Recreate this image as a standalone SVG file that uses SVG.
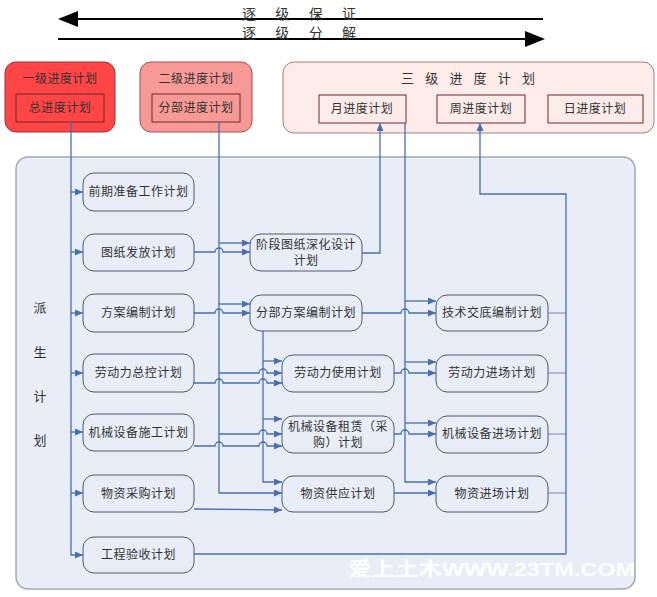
<svg xmlns="http://www.w3.org/2000/svg" width="657" height="597" viewBox="0 0 657 597">
<defs>
<marker id="ar" markerUnits="userSpaceOnUse" markerWidth="9" markerHeight="8" refX="8" refY="3.5" orient="auto">
<path d="M0,0 L8,3.5 L0,7 z" fill="#4a6fae"/>
</marker>
<style>
text{font-family:"Noto Sans CJK SC","Noto Sans",sans-serif;fill:#333;}
.t{font-size:12px;text-anchor:middle;letter-spacing:0.5px;}
.n{fill:#e8edf7;stroke:#4d5a72;stroke-width:1;}
.in{fill:none;stroke:#6a2a2a;stroke-width:1;}
.c{fill:none;stroke:#4a6fae;stroke-width:1.3;}
.ca{fill:none;stroke:#4a6fae;stroke-width:1.3;marker-end:url(#ar);}
.cr{fill:none;stroke:#7088b8;stroke-width:1;}
.big{stroke:#000;stroke-width:2;}
</style>
</defs>
<rect width="657" height="597" fill="#fff"/>

<g id="top-arrows">
<line class="big" x1="70" y1="19" x2="543" y2="19"/>
<path d="M58,19 L78,11 L78,27 z" fill="#000"/>
<line class="big" x1="58" y1="39" x2="530" y2="39"/>
<path d="M545,39 L525,31 L525,47 z" fill="#000"/>
<text x="242" y="19" font-size="14" textLength="114" lengthAdjust="spacing">逐 级 保 证</text>
<text x="242" y="38" font-size="14" textLength="114" lengthAdjust="spacing">逐 级 分 解</text>
</g>

<g id="level1">
<rect x="5" y="62" width="110" height="70" rx="11" fill="#ff4545" stroke="#a03030"/>
<text class="t" x="60" y="83">一级进度计划</text>
<rect class="in" x="16" y="94" width="88" height="28"/>
<text class="t" x="60" y="112">总进度计划</text>
</g>
<g id="level2">
<rect x="140" y="62" width="112" height="70" rx="11" fill="#f79a96" stroke="#a05050"/>
<text class="t" x="196" y="83">二级进度计划</text>
<rect class="in" x="152" y="94" width="88" height="28"/>
<text class="t" x="196" y="112">分部进度计划</text>
</g>
<g id="level3">
<rect x="283" y="62" width="371" height="71" rx="11" fill="#fdebe9" stroke="#a08080"/>
<text x="401" y="83" font-size="13" textLength="134" lengthAdjust="spacing">三 级 进 度 计 划</text>
</g>
<g id="month"><rect class="in" x="319" y="95" width="87" height="28" stroke="#7a4a4a"/><text class="t" x="362" y="113">月进度计划</text></g>
<g id="week"><rect class="in" x="437" y="95" width="88" height="28" stroke="#7a4a4a"/><text class="t" x="481" y="113">周进度计划</text></g>
<g id="day"><rect class="in" x="548" y="95" width="95" height="28" stroke="#7a4a4a"/><text class="t" x="595" y="113">日进度计划</text></g>

<g id="panel">
<rect x="16" y="157" width="619" height="432" rx="12" fill="#e8edf7" stroke="#a4a8b0" stroke-width="1.5"/>
<text x="40" y="312" font-size="13" text-anchor="middle">派</text>
<text x="40" y="357" font-size="13" text-anchor="middle">生</text>
<text x="40" y="401" font-size="13" text-anchor="middle">计</text>
<text x="40" y="445" font-size="13" text-anchor="middle">划</text>
</g>

<g id="connectors">
<path class="ca" d="M71,122 V555 H83"/>
<path class="ca" d="M71,192 H83"/>
<path class="ca" d="M71,252 H83"/>
<path class="ca" d="M71,313 H83"/>
<path class="ca" d="M71,373 H83"/>
<path class="ca" d="M71,432 H83"/>
<path class="ca" d="M71,493 H83"/>

<path class="ca" d="M219,122 V493 H282"/>
<path class="ca" d="M219,243 H250"/>
<path class="ca" d="M219,304 H250"/>
<path class="ca" d="M219,373 H259 A4,4 0 0 1 267,373 H282"/>
<path class="ca" d="M219,434 H259 A4,4 0 0 1 267,434 H282"/>

<path class="ca" d="M194,252 H215 A4,4 0 0 1 223,252 H250"/>
<path class="ca" d="M194,313 H215 A4,4 0 0 1 223,313 H250"/>
<path class="ca" d="M194,383 H215 A4,4 0 0 1 223,383 H259 A4,4 0 0 1 267,383 H282"/>
<path class="ca" d="M194,446 H215 A4,4 0 0 1 223,446 H259 A4,4 0 0 1 267,446 H282"/>
<path class="ca" d="M194,509 L282,510"/>

<path class="ca" d="M263,330 V482 H282"/>
<path class="ca" d="M263,361 H282"/>
<path class="ca" d="M263,419 H282"/>

<path class="ca" d="M362,253 H380 V123"/>

<path class="ca" d="M405,123 V482 H436"/>
<path class="ca" d="M405,301 H436"/>
<path class="ca" d="M405,362 H436"/>
<path class="ca" d="M405,423 H436"/>
<path class="ca" d="M362,313 H401 A4,4 0 0 1 409,313 H436"/>
<path class="ca" d="M394,373 H401 A4,4 0 0 1 409,373 H436"/>
<path class="ca" d="M394,434 H401 A4,4 0 0 1 409,434 H436"/>
<path class="ca" d="M394,493 H436"/>

<path class="cr" d="M548,313 H566"/>
<path class="cr" d="M548,373 H566"/>
<path class="cr" d="M548,434 H566"/>
<path class="cr" d="M548,493 H566"/>
<path class="c" d="M194,554 H566"/>
<path class="ca" d="M566,554 V194 H480 V123"/>
</g>

<g id="n-qianqi"><rect class="n" x="83" y="173" width="111" height="38" rx="11"/><text class="t" x="138.5" y="196">前期准备工作计划</text></g>
<g id="n-tuzhi"><rect class="n" x="83" y="234" width="111" height="37" rx="11"/><text class="t" x="138.5" y="257">图纸发放计划</text></g>
<g id="n-fangan"><rect class="n" x="83" y="294" width="111" height="38" rx="11"/><text class="t" x="138.5" y="317">方案编制计划</text></g>
<g id="n-laodong"><rect class="n" x="83" y="354" width="111" height="38" rx="11"/><text class="t" x="138.5" y="377">劳动力总控计划</text></g>
<g id="n-jixie"><rect class="n" x="83" y="414" width="111" height="37" rx="11"/><text class="t" x="138.5" y="437">机械设备施工计划</text></g>
<g id="n-wuzi"><rect class="n" x="83" y="475" width="111" height="37" rx="11"/><text class="t" x="138.5" y="498">物资采购计划</text></g>
<g id="n-yanshou"><rect class="n" x="83" y="537" width="111" height="36" rx="11"/><text class="t" x="138.5" y="559">工程验收计划</text></g>

<g id="n-jieduan"><rect class="n" x="250" y="234" width="112" height="37" rx="11"/><text class="t" x="306" y="249">阶段图纸深化设计</text><text class="t" x="306" y="265">计划</text></g>
<g id="n-fenbu"><rect class="n" x="250" y="295" width="112" height="36" rx="11"/><text class="t" x="306" y="317">分部方案编制计划</text></g>
<g id="n-ldsy"><rect class="n" x="282" y="355" width="112" height="37" rx="11"/><text class="t" x="338" y="377">劳动力使用计划</text></g>
<g id="n-jxzl"><rect class="n" x="282" y="416" width="112" height="37" rx="11"/><text class="t" x="338" y="431">机械设备租赁（采</text><text class="t" x="338" y="447">购）计划</text></g>
<g id="n-wzgy"><rect class="n" x="282" y="476" width="112" height="36" rx="11"/><text class="t" x="338" y="498">物资供应计划</text></g>

<g id="n-jishu"><rect class="n" x="436" y="295" width="112" height="36" rx="11"/><text class="t" x="492" y="317">技术交底编制计划</text></g>
<g id="n-ldjc"><rect class="n" x="436" y="355" width="112" height="37" rx="11"/><text class="t" x="492" y="377">劳动力进场计划</text></g>
<g id="n-jxjc"><rect class="n" x="436" y="416" width="112" height="37" rx="11"/><text class="t" x="492" y="438">机械设备进场计划</text></g>
<g id="n-wzjc"><rect class="n" x="436" y="476" width="112" height="36" rx="11"/><text class="t" x="492" y="498">物资进场计划</text></g>

<text x="348" y="576" font-size="19" font-weight="bold" textLength="287" lengthAdjust="spacingAndGlyphs" style="fill:#ffffff;font-family:'Liberation Sans','Noto Sans CJK SC',sans-serif;">爱上土木WWW.23TM.COM</text>
</svg>
